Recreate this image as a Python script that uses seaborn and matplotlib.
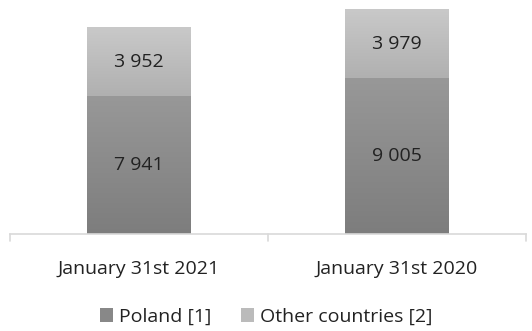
import numpy as np
import pandas as pd
import matplotlib
matplotlib.use("Agg")
import matplotlib.pyplot as plt
import seaborn as sns
from matplotlib.colors import LinearSegmentedColormap
from matplotlib.patches import Patch

categories = ["January 31st 2021", "January 31st 2020"]
poland = [7941, 9005]
other = [3952, 3979]
series_names = ["Poland [1]", "Other countries [2]"]

def fmt(v):
    return f"{v:,}".replace(",", " ")

sns.set_theme(style="white")
plt.rcParams["font.family"] = ["Open Sans", "DejaVu Sans"]

df = pd.DataFrame({"cat": categories, "poland": poland, "other": other})
df["total"] = df["poland"] + df["other"]

fig = plt.figure(figsize=(5.32, 3.31), dpi=100)
ax = fig.add_axes([9.5 / 532, 1 - 234 / 331, 516 / 532, 234 / 331])

sns.barplot(data=df, x="cat", y="total", color="#bbbbbb", width=0.4, ax=ax, saturation=1)
sns.barplot(data=df, x="cat", y="poland", color="#888888", width=0.4, ax=ax, saturation=1)

grad_poland = LinearSegmentedColormap.from_list("pl", ["#7d7d7d", "#989898"])
grad_other = LinearSegmentedColormap.from_list("ot", ["#b0b0b0", "#c9c9c9"])

patches = list(ax.patches)
n = len(categories)
for i, p in enumerate(patches):
    cmap = grad_other if i < n else grad_poland
    x0, y0 = p.get_x(), p.get_y()
    w, h = p.get_width(), p.get_height()
    if i < n:
        # upper segment only: start where the Poland part ends
        y0 = df["poland"].iloc[i]
        h = df["total"].iloc[i] - y0
    grad = np.linspace(0, 1, 256).reshape(-1, 1)
    ax.imshow(grad, cmap=cmap, origin="lower", aspect="auto",
              extent=[x0, x0 + w, y0, y0 + h], zorder=2)
    p.set_facecolor("none")
    p.set_edgecolor("none")

ax.set_xlim(-0.5, 1.5)
ax.set_ylim(0, 13510)

FS = 14
for i in range(n):
    ax.text(i, poland[i] / 2, fmt(poland[i]), ha="center", va="center",
            fontsize=FS, color="#222222", zorder=3)
    ax.text(i, poland[i] + other[i] / 2, fmt(other[i]), ha="center", va="center",
            fontsize=FS, color="#222222", zorder=3)

for s in ["top", "right", "left"]:
    ax.spines[s].set_visible(False)
ax.spines["bottom"].set_color("#d9d9d9")
ax.spines["bottom"].set_linewidth(1.2)
ax.set_yticks([])
ax.set_xlabel("")
ax.set_ylabel("")
ax.set_xticks([0, 1])
ax.set_xticklabels(categories, fontsize=FS, color="#222222")
ax.tick_params(axis="x", length=0, pad=19)
for xb in [-0.5, 0.5, 1.5]:
    ax.plot([xb, xb], [0, -400], color="#d9d9d9", lw=1.2, clip_on=False, zorder=1)

handles = [Patch(facecolor="#888888", edgecolor="none"),
           Patch(facecolor="#bbbbbb", edgecolor="none")]
fig.legend(handles, series_names, loc="center", bbox_to_anchor=(0.5, 1 - 317 / 331),
           ncol=2, frameon=False, fontsize=FS, handlelength=0.7, handleheight=0.7,
           handletextpad=0.3, columnspacing=1.5, labelcolor="#222222")

fig.savefig("out.png", dpi=100)
